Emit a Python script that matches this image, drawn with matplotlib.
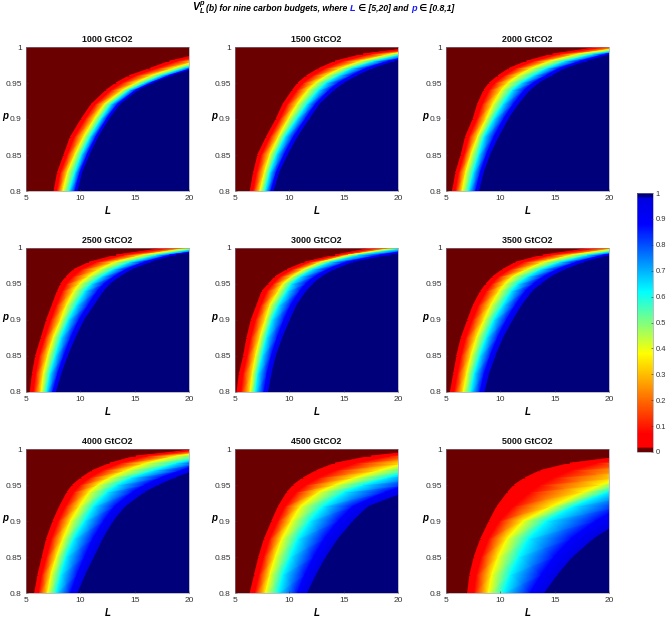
import numpy as np
import matplotlib
matplotlib.use('Agg')
import matplotlib.pyplot as plt
from matplotlib.colors import LinearSegmentedColormap
from matplotlib.cm import ScalarMappable

plt.rcParams['font.family'] = ['Liberation Sans', 'DejaVu Sans']
plt.rcParams['mathtext.fontset'] = 'custom'
plt.rcParams['mathtext.rm'] = 'Liberation Sans:italic:bold'
plt.rcParams['mathtext.it'] = 'Liberation Sans:italic:bold'
plt.rcParams['mathtext.bf'] = 'Liberation Sans:italic:bold'

budgets = [1000, 1500, 2000, 2500, 3000, 3500, 4000, 4500, 5000]
p_rows = [0.80, 0.825, 0.85, 0.875, 0.90, 0.92, 0.94, 0.95, 0.96, 0.97, 0.98, 0.99, 1.00]

# L where each colour is reached along every p row
# rows: first red, yellow, cyan, last blue
b1000 = [[7.6, 7.9, 8.5, 9.1, 10.1, 11.0, 12.4, 13.3, 14.5, 16.4, 18.2, 21.0, 24.0],
         [8.4, 8.8, 9.5, 10.3, 11.3, 12.2, 13.9, 15.1, 16.5, 18.5, 20.6, 23.1, 25.9],
         [9.0, 9.5, 10.1, 10.9, 11.9, 12.8, 14.5, 15.9, 17.4, 19.4, 21.6, 24.0, 26.8],
         [9.8, 10.2, 10.9, 11.7, 12.7, 13.7, 15.4, 16.8, 18.5, 20.6, 22.8, 25.2, 27.7]]
b1500 = [[6.4, 6.7, 7.1, 7.9, 8.8, 9.4, 10.3, 10.8, 11.6, 12.7, 14.2, 16.8, 22.0],
         [7.3, 7.7, 8.2, 9.0, 9.9, 10.7, 11.7, 12.4, 13.4, 14.7, 16.5, 19.3, 23.4],
         [7.8, 8.2, 8.8, 9.6, 10.7, 11.6, 12.7, 13.4, 14.5, 15.7, 17.7, 20.5, 24.6],
         [8.6, 9.1, 9.9, 10.8, 11.9, 12.8, 14.2, 15.1, 16.3, 17.7, 19.7, 22.8, 30.0]]
b2000 = [[5.6, 5.9, 6.4, 6.8, 7.5, 7.9, 8.5, 9.0, 9.8, 10.8, 12.4, 14.8, 19.1],
         [6.5, 6.8, 7.3, 7.9, 8.7, 9.3, 10.1, 10.7, 11.6, 12.8, 14.5, 17.1, 21.6],
         [7.1, 7.5, 8.0, 8.5, 9.4, 10.2, 11.1, 11.9, 13.0, 14.2, 15.9, 18.5, 22.8],
         [8.1, 8.5, 9.1, 9.9, 10.8, 11.7, 12.8, 13.6, 14.8, 16.0, 18.0, 20.3, 24.6]]
b2500 = [[5.4, 5.6, 5.9, 6.4, 6.9, 7.4, 7.9, 8.2, 8.7, 9.4, 10.8, 13.3, 17.9],
         [6.4, 6.6, 7.0, 7.5, 8.2, 8.7, 9.4, 9.9, 10.7, 11.7, 13.1, 15.7, 20.0],
         [6.9, 7.2, 7.7, 8.2, 8.9, 9.6, 10.4, 11.0, 11.9, 13.0, 14.5, 17.0, 21.3],
         [7.8, 8.3, 8.9, 9.6, 10.4, 11.3, 12.2, 12.8, 13.7, 14.8, 16.5, 18.8, 23.4]]
b3000 = [[5.2, 5.4, 5.8, 6.1, 6.5, 7.0, 7.5, 8.1, 8.7, 9.8, 11.4, 14.2, 17.7],
         [6.4, 6.6, 6.9, 7.3, 7.8, 8.2, 9.0, 9.4, 10.2, 11.3, 12.8, 15.4, 19.7],
         [6.9, 7.1, 7.5, 7.9, 8.4, 9.0, 9.8, 10.2, 11.0, 12.1, 13.7, 16.3, 20.8],
         [8.1, 8.4, 8.8, 9.4, 10.1, 10.7, 11.6, 12.2, 13.0, 14.2, 15.9, 19.3, 23.4]]
b3500 = [[5.4, 5.7, 6.0, 6.4, 7.0, 7.5, 8.2, 8.7, 9.3, 10.2, 11.4, 13.9, 18.5],
         [6.6, 6.9, 7.3, 7.8, 8.5, 9.1, 9.9, 10.4, 11.1, 12.4, 13.9, 16.5, 21.0],
         [7.3, 7.6, 8.1, 8.7, 9.4, 10.2, 11.0, 11.6, 12.5, 13.7, 15.4, 18.0, 22.5],
         [8.6, 9.0, 9.6, 10.3, 11.2, 12.0, 13.0, 13.8, 14.7, 16.0, 17.7, 20.2, 24.6]]
b4000 = [[5.8, 6.1, 6.5, 6.9, 7.5, 8.1, 8.8, 9.3, 10.1, 11.1, 12.7, 15.1, 21.0],
         [7.0, 7.3, 7.8, 8.4, 9.1, 9.9, 10.8, 11.6, 12.7, 14.2, 16.0, 18.8, 23.4],
         [7.8, 8.2, 8.7, 9.4, 10.4, 11.2, 12.5, 13.4, 14.7, 16.7, 18.8, 21.6, 25.9],
         [9.8, 10.5, 11.3, 12.1, 13.1, 14.2, 16.0, 17.3, 18.8, 20.6, 22.5, 24.6, 27.0]]
b4500 = [[6.4, 6.8, 7.2, 7.7, 8.4, 9.0, 9.8, 10.4, 11.3, 12.5, 14.2, 17.5, 23.4],
         [7.8, 8.2, 8.7, 9.3, 10.2, 11.0, 12.7, 14.2, 16.0, 18.2, 20.6, 23.4, 27.0],
         [9.0, 9.4, 10.1, 10.8, 11.9, 13.1, 15.1, 16.8, 19.0, 21.3, 23.7, 26.5, 29.5],
         [11.7, 12.5, 13.4, 14.5, 15.9, 17.3, 20.8, 23.0, 25.0, 27.0, 29.0, 31.0, 33.0]]
b5000 = [[7.0, 7.2, 7.6, 8.2, 9.0, 9.7, 10.7, 11.3, 12.3, 13.7, 16.4, 21.6, 27.5],
         [8.9, 9.2, 9.8, 10.6, 12.1, 14.7, 17.6, 19.2, 21.0, 22.9, 24.7, 26.5, 28.4],
         [10.3, 10.9, 11.7, 12.6, 14.3, 16.7, 19.9, 21.6, 23.5, 25.3, 27.1, 29.0, 30.8],
         [14.1, 15.3, 16.7, 18.6, 21.2, 23.5, 25.9, 27.1, 28.4, 29.6, 30.8, 32.0, 33.3]]
edges = [b1000, b1500, b2000, b2500, b3000, b3500, b4000, b4500, b5000]

# value that goes with each column of the mesh, left to right
levels = [0.0, 0.0, 0.02, 0.07, 0.38, 0.62, 0.88, 0.98, 1.0, 1.0]

colors = [(0.0, '#6a0000'), (0.015, '#6a0000'), (0.016, '#ff0000'), (0.07, '#ff0000'),
          (0.38, '#ffff00'), (0.62, '#00ffff'), (0.88, '#0000ff'), (0.984, '#0000e0'),
          (0.985, '#00007a'), (1.0, '#00007a')]
cm = LinearSegmentedColormap.from_list('rjet', colors, N=512)

W, H = 668, 623
fig = plt.figure(figsize=(W / 100, H / 100), dpi=100)

lefts = [26, 235, 446]
tops = [47, 248, 449]
grey = '#333333'

for i, b in enumerate(budgets):
    x0 = lefts[i % 3]
    y0 = tops[i // 3]
    ax = fig.add_axes([x0 / W, 1 - (y0 + 144) / H, 163 / W, 144 / H])
    e = np.array(edges[i])
    n = len(p_rows)
    # dark strip, sharp step to red, flat red and flat blue parts of the ramp, sharp step to navy
    red_end = e[0] + 0.3 * (e[1] - e[0])
    blue_start = e[2] + 0.65 * (e[3] - e[2])
    X = np.column_stack([np.zeros(n), e[0], e[0], red_end, e[1], e[2], blue_start, e[3], e[3],
                         np.full(n, 120.0)])
    Y = np.column_stack([p_rows] * 10)
    C = np.tile(levels, (n, 1))
    ax.pcolormesh(X, Y, C, shading='gouraud', cmap=cm, vmin=0, vmax=1)
    ax.set_xlim(5, 20)
    ax.set_ylim(0.8, 1)
    ax.set_xticks([5, 10, 15, 20])
    ax.set_yticks([0.8, 0.85, 0.9, 0.95, 1])
    ax.set_yticklabels(['0.8', '0.85', '0.9', '0.95', '1'])
    ax.tick_params(labelsize=6, length=1.5, width=0.4, direction='in', colors=grey, pad=3)
    for s in ax.spines.values():
        s.set_linewidth(0.4)
        s.set_color('#8a8a9a')
    ax.set_title('%d GtCO2' % b, fontsize=6.4, fontweight='bold', pad=3.5, color='#111111')
    ax.set_xlabel('L', fontsize=7, fontweight='bold', style='italic', labelpad=3)
    ax.set_ylabel('p', fontsize=7, fontweight='bold', style='italic', rotation=0, va='center')
    ax.yaxis.set_label_coords(-21 / 163, 0.52)

# colorbar
cax = fig.add_axes([637 / W, 1 - 452 / H, 16 / W, 259 / H])
cb = fig.colorbar(ScalarMappable(cmap=cm), cax=cax)
cb.set_ticks(np.arange(0, 1.01, 0.1))
cb.set_ticklabels(['0', '0.1', '0.2', '0.3', '0.4', '0.5', '0.6', '0.7', '0.8', '0.9', '1'])
cb.ax.tick_params(labelsize=5.4, length=1.5, width=0.4, direction='in', colors=grey, pad=2)
cb.outline.set_linewidth(0.4)
cb.outline.set_edgecolor('#8a8a9a')

# title put together from pieces because L and p are blue
pieces = [(r'$V_L^p$', 'black', 7.6), ('(b) for nine carbon budgets, where ', 'black', 6.2), ('L', '#1a1aff', 6.6),
          (' \u2208 [5,20] and ', 'black', 6.2), ('p', '#1a1aff', 6.6), (' \u2208 [0.8,1]', 'black', 6.2)]
fig.canvas.draw()
r = fig.canvas.get_renderer()
x = 192
for txt, col, fs in pieces:
    t = fig.text(x / W, 1 - 11 / H, txt, color=col, fontsize=fs, fontweight='bold',
                 style='italic', ha='left', va='baseline')
    x = t.get_window_extent(r).x1 + 0.3

fig.savefig('out.png', dpi=100)
